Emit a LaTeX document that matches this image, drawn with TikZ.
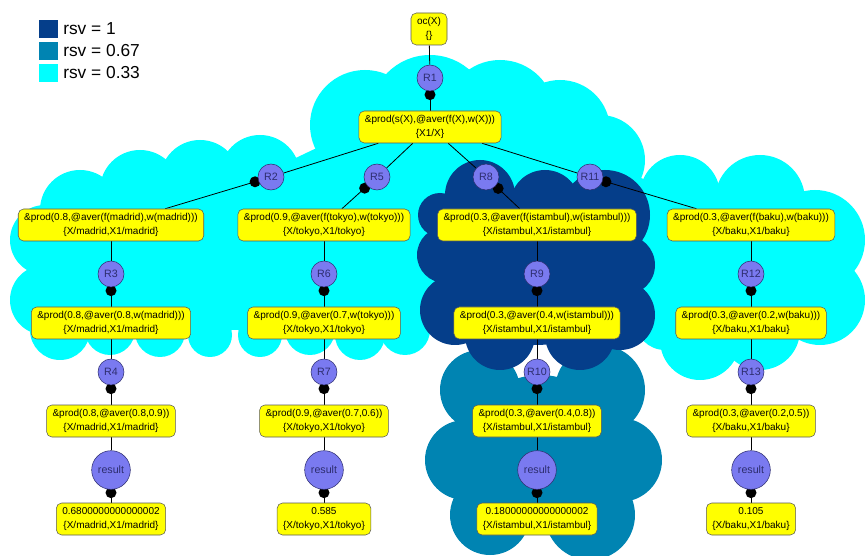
\documentclass[tikz,border=0pt]{standalone}
\usepackage{fontspec}
\setmainfont{Liberation Sans}
\usetikzlibrary{calc}

\pgfdeclarelayer{clouds}
\pgfdeclarelayer{links}
\pgfsetlayers{clouds,links,main}

\definecolor{rsvhigh}{RGB}{5,62,138}
\definecolor{rsvmid}{RGB}{0,132,178}
\definecolor{rsvlow}{RGB}{0,255,255}
\definecolor{goalfill}{RGB}{255,255,0}
\definecolor{rulefill}{RGB}{122,122,240}
\definecolor{ruleline}{RGB}{45,45,110}

\tikzset{
  goal/.style={draw=black!65, fill=goalfill, rounded corners=4pt, align=center,
    font=\fontsize{7.5}{10.5}\selectfont, inner xsep=4.5pt, inner ysep=2pt, minimum height=24pt},
  rule/.style={circle, draw=ruleline, fill=rulefill, text=ruleline,
    font=\fontsize{8}{9}\selectfont, inner sep=0pt, minimum size=19.5pt},
  result/.style={rule, minimum size=29pt},
  link/.style={line width=0.6pt},
  legend/.style={anchor=west, font=\fontsize{13}{15}\selectfont, inner sep=0pt}
}

\begin{document}
\begin{tikzpicture}[x=0.75pt,y=-0.75pt]
    \useasboundingbox (0,0) rectangle (865,556);

    % Legend
    \fill[rsvhigh] (39,20) rectangle (58,38);
    \fill[rsvmid] (39,42) rectangle (58,60);
    \fill[rsvlow] (39,64) rectangle (58,82);
    \node[legend] (leghigh) at (63,29) {rsv = 1};
    \node[legend] (legmid) at (63,51) {rsv = 0.67};
    \node[legend] (leglow) at (63,73) {rsv = 0.33};

    % Top of the tree
    \node[goal, minimum width=27pt] (oc) at (429,29) {oc(X)\\\{\}};
    \node[rule] (r1) at (430,78) {R1};
    \node[goal] (top) at (430,127) {\&prod(s(X),@aver(f(X),w(X)))\\\{X1/X\}};
    \node[rule] (r2) at (271,177) {R2};
    \node[rule] (r5) at (377,177) {R5};
    \node[rule] (r8) at (486,177) {R8};
    \node[rule] (r11) at (590,177) {R11};

    % madrid
    \node[goal] (mad1) at (111,225) {\&prod(0.8,@aver(f(madrid),w(madrid)))\\\{X/madrid,X1/madrid\}};
    \node[rule] (r3) at (111,274) {R3};
    \node[goal] (mad2) at (111,323) {\&prod(0.8,@aver(0.8,w(madrid)))\\\{X/madrid,X1/madrid\}};
    \node[rule] (r4) at (111,372) {R4};
    \node[goal] (mad3) at (111,421) {\&prod(0.8,@aver(0.8,0.9))\\\{X/madrid,X1/madrid\}};
    \node[result] (resmad) at (111,470) {result};
    \node[goal] (mad4) at (111,519) {0.6800000000000002\\\{X/madrid,X1/madrid\}};

    % tokyo
    \node[goal] (tok1) at (324,225) {\&prod(0.9,@aver(f(tokyo),w(tokyo)))\\\{X/tokyo,X1/tokyo\}};
    \node[rule] (r6) at (324,274) {R6};
    \node[goal] (tok2) at (324,323) {\&prod(0.9,@aver(0.7,w(tokyo)))\\\{X/tokyo,X1/tokyo\}};
    \node[rule] (r7) at (324,372) {R7};
    \node[goal] (tok3) at (324,421) {\&prod(0.9,@aver(0.7,0.6))\\\{X/tokyo,X1/tokyo\}};
    \node[result] (restok) at (324,470) {result};
    \node[goal] (tok4) at (324,519) {0.585\\\{X/tokyo,X1/tokyo\}};

    % istambul
    \node[goal] (ist1) at (537,225) {\&prod(0.3,@aver(f(istambul),w(istambul)))\\\{X/istambul,X1/istambul\}};
    \node[rule] (r9) at (537,274) {R9};
    \node[goal] (ist2) at (537,323) {\&prod(0.3,@aver(0.4,w(istambul)))\\\{X/istambul,X1/istambul\}};
    \node[rule] (r10) at (537,372) {R10};
    \node[goal] (ist3) at (537,421) {\&prod(0.3,@aver(0.4,0.8))\\\{X/istambul,X1/istambul\}};
    \node[result] (resist) at (537,470) {result};
    \node[goal] (ist4) at (537,519) {0.18000000000000002\\\{X/istambul,X1/istambul\}};

    % baku
    \node[goal] (bak1) at (751,225) {\&prod(0.3,@aver(f(baku),w(baku)))\\\{X/baku,X1/baku\}};
    \node[rule] (r12) at (751,274) {R12};
    \node[goal] (bak2) at (751,323) {\&prod(0.3,@aver(0.2,w(baku)))\\\{X/baku,X1/baku\}};
    \node[rule] (r13) at (751,372) {R13};
    \node[goal] (bak3) at (751,421) {\&prod(0.3,@aver(0.2,0.5))\\\{X/baku,X1/baku\}};
    \node[result] (resbak) at (751,470) {result};
    \node[goal] (bak4) at (751,519) {0.105\\\{X/baku,X1/baku\}};

    % Links, dot where a rule leads to its goal
    \begin{pgfonlayer}{links}
    \foreach \a/\b in {oc/r1, top/r2, top/r5, top/r8, top/r11,
        mad1/r3, mad2/r4, mad3/resmad, tok1/r6, tok2/r7, tok3/restok,
        ist1/r9, ist2/r10, ist3/resist, bak1/r12, bak2/r13, bak3/resbak}
      { \draw[link] (\a) -- (\b); }
    \foreach \a/\b/\d in {r1/top/12.5, r2/mad1/12.5, r5/tok1/12.5, r8/ist1/12.5, r11/bak1/12.5,
        r3/mad2/12.5, r4/mad3/12.5, r6/tok2/12.5, r7/tok3/12.5,
        r9/ist2/12.5, r10/ist3/12.5, r12/bak2/12.5, r13/bak3/12.5,
        resmad/mad4/17, restok/tok4/17, resist/ist4/17, resbak/bak4/17}
      { \draw[link] (\a) -- (\b);
        \fill ($(\a)!\d pt!(\b)$) circle (5.5); }
    \end{pgfonlayer}

    % Clouds
    \begin{pgfonlayer}{clouds}
    \fill[rsvlow] (430,115) -- (365,125) -- (260,175) -- (200,180) -- (140,190) -- (80,210)
      -- (45,240) -- (45,300) -- (60,330) -- (405,330) -- (665,320) -- (700,340) -- (760,330)
      -- (820,300) -- (815,240) -- (760,200) -- (680,195) -- (600,160) -- (560,130) -- (500,115) -- cycle;
    \foreach \x/\y/\r in {430/115/60, 365/125/55, 500/115/55, 560/130/50, 600/160/45,
        680/195/40, 760/200/45, 815/240/50, 820/300/45, 760/330/40, 700/340/40, 665/320/30,
        260/175/40, 200/180/40, 140/190/40, 80/210/40, 45/240/35, 45/300/35, 60/330/30,
        110/330/25, 160/332/25, 210/335/22, 260/335/22, 310/330/25, 360/335/25, 405/330/25}
      { \fill[rsvlow] (\x,\y) circle (\r); }
    \foreach \x/\y/\r in {480/390/40, 600/390/45, 465/460/40, 620/460/42, 540/450/75,
        490/515/40, 590/515/45}
      { \fill[rsvmid] (\x,\y) circle (\r); }
    \foreach \x/\y/\r in {480/195/35, 440/215/22, 545/205/35, 605/215/45, 445/255/28,
        625/265/30, 455/310/35, 620/315/35, 500/335/35, 580/335/35, 537/265/80}
      { \fill[rsvhigh] (\x,\y) circle (\r); }
    \end{pgfonlayer}
\end{tikzpicture}
\end{document}
